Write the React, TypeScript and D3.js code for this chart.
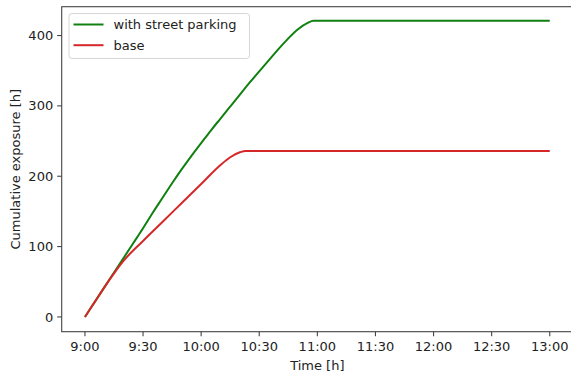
import React from "react";
import * as d3 from "d3";

// minutes after 9:00
const greenTimes = [0, 5, 10, 15, 20, 25, 30, 35, 40, 45, 50, 55, 60, 65, 70, 75, 80, 85, 90, 95, 100, 105, 110, 115, 118, 240];
const greenValues = [0, 21, 42, 63, 84, 105, 126, 148, 169, 190, 210, 229, 247, 265, 282, 299, 316, 333, 349, 365, 381, 396, 409, 418, 421, 421];

const redTimes = [0, 5, 10, 15, 20, 30, 40, 50, 60, 70, 75, 80, 83, 240];
const redValues = [0, 21, 42, 62, 80, 108, 135, 162, 189, 216, 227, 234, 236, 236];

const xTickValues = [0, 30, 60, 90, 120, 150, 180, 210, 240];
const xTickLabels = ["9:00", "9:30", "10:00", "10:30", "11:00", "11:30", "12:00", "12:30", "13:00"];
const yTickValues = [0, 100, 200, 300, 400];

const seriesNames = ["with street parking", "base"];
const seriesColors = ["#108010", "#d62728"];

const W = 571;
const H = 374;
const left = 61.7;
const right = 573;
const top = 6.7;
const bottom = 331.7;
const font = "DejaVu Sans, sans-serif";
const fs = 13;

export default function App() {
  const x = d3.scaleLinear().domain([-12, 252]).range([left, right]);
  const y = d3.scaleLinear().domain([-21, 441]).range([bottom, top]);
  const line = d3
    .line<[number, number]>()
    .x((d) => x(d[0]))
    .y((d) => y(d[1]))
    .curve(d3.curveMonotoneX);

  const series = [
    greenTimes.map((t, i) => [t, greenValues[i]] as [number, number]),
    redTimes.map((t, i) => [t, redValues[i]] as [number, number]),
  ];

  return (
    <svg
      width={W}
      height={H}
      style={{ position: "absolute", left: 0, top: 0, background: "#fff" }}
      fontFamily={font}
    >
      <rect x={0} y={0} width={W} height={H} fill="#fff" />
      {/* frame */}
      <rect x={left} y={top} width={right - left} height={bottom - top} fill="none" stroke="#444" strokeWidth={1.1} />
      {/* x ticks */}
      {xTickValues.map((t, i) => (
        <g key={"x" + i}>
          <line x1={x(t)} x2={x(t)} y1={bottom} y2={bottom + 4.5} stroke="#444" strokeWidth={1.1} />
          <text x={x(t)} y={bottom + 19.5} textAnchor="middle" fontSize={fs} fill="#222">
            {xTickLabels[i]}
          </text>
        </g>
      ))}
      {/* y ticks */}
      {yTickValues.map((v, i) => (
        <g key={"y" + i}>
          <line x1={left - 4.5} x2={left} y1={y(v)} y2={y(v)} stroke="#444" strokeWidth={1.1} />
          <text x={left - 8.5} y={y(v) + 4.6} textAnchor="end" fontSize={fs} fill="#222">
            {v}
          </text>
        </g>
      ))}
      <text x={(left + right) / 2} y={370} textAnchor="middle" fontSize={fs} fill="#222">
        Time [h]
      </text>
      <text
        transform={`translate(19.5, ${(top + bottom) / 2}) rotate(-90)`}
        textAnchor="middle"
        fontSize={fs}
        fill="#222"
      >
        Cumulative exposure [h]
      </text>
      {/* lines */}
      {series.map((s, i) => (
        <path key={"s" + i} d={line(s) || ""} fill="none" stroke={seriesColors[i]} strokeWidth={2} />
      ))}
      {/* legend */}
      <rect x={69} y={13.5} width={180.5} height={45} rx={3} fill="#fff" fillOpacity={0.85} stroke="#d6d6d6" strokeWidth={1} />
      {seriesNames.map((n, i) => (
        <g key={"l" + i}>
          <line x1={73.5} x2={103.5} y1={24.5 + i * 20.7} y2={24.5 + i * 20.7} stroke={seriesColors[i]} strokeWidth={2} />
          <text x={113.5} y={24.5 + i * 20.7 + 4.6} fontSize={fs} fill="#222">
            {n}
          </text>
        </g>
      ))}
    </svg>
  );
}
